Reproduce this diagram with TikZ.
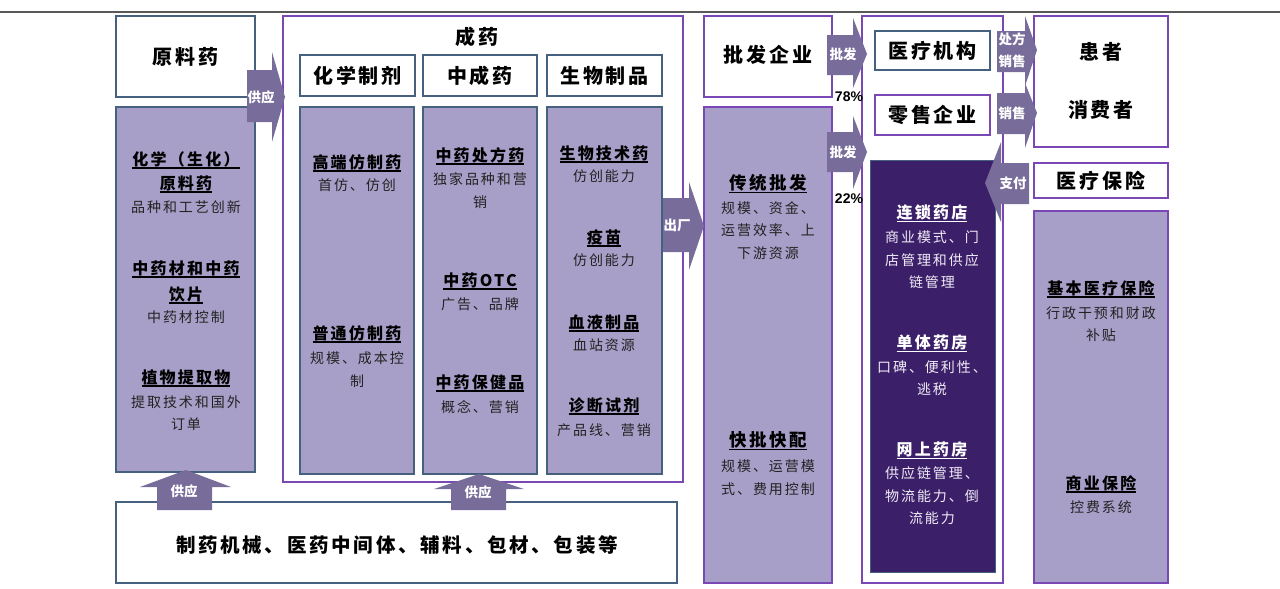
\documentclass[tikz,border=0pt]{standalone}
\usepackage{fontspec}
\setmainfont{Liberation Sans}
\newfontfamily\cjk{Noto Sans CJK SC}[LetterSpace=14]
\newfontfamily\cjkh{Noto Sans CJK SC}[LetterSpace=14]
\newfontfamily\cjkn{Noto Sans CJK SC}
\usetikzlibrary{fit}
\definecolor{lav}{HTML}{A79FC7}
\definecolor{bgray}{HTML}{46617F}
\definecolor{pbord}{HTML}{7A48B4}
\definecolor{arrc}{HTML}{786D9A}
\definecolor{darkp}{HTML}{3C1F69}
\definecolor{bodyc}{HTML}{222222}
\definecolor{lightt}{HTML}{F0ECF6}
\newcommand\myul[1]{\setbox0\hbox{#1}\leavevmode\rlap{\smash{\rule[-3.5pt]{\wd0}{1.3pt}}}\box0}
\newcommand\myHD{\cjkh\bfseries\fontsize{20}{24}\selectfont}
\newcommand\myTT{\cjk\bfseries\fontsize{16}{24}\selectfont}
\newcommand\myTTb{\cjk\bfseries\fontsize{17.5}{24}\selectfont}
\newcommand\myBD{\cjk\fontsize{14}{22.5}\selectfont}
\newcommand\myAT{\cjkn\bfseries\fontsize{13.5}{22}\selectfont}
\tikzset{
  bxb/.style={draw=bgray, line width=2.2pt, fill=white, inner sep=0pt, outer sep=0pt},
  bxp/.style={draw=pbord, line width=2pt, fill=white, inner sep=0pt, outer sep=0pt},
  lavb/.style={bxb, fill=lav},
  lavp/.style={bxp, fill=lav},
  hd/.style={font=\myHD, text=black, inner sep=0pt},
  tt/.style={font=\myTT, text=black, inner sep=0pt, align=center},
  ttb/.style={font=\myTTb, text=black, inner sep=0pt, align=center},
  bd/.style={font=\myBD, text=bodyc, inner sep=0pt, align=center},
  arrtxt/.style={font=\myAT, text=white, inner sep=0pt, align=center},
  pct/.style={font=\bfseries\fontsize{14}{16}\selectfont, text=black, inner sep=0pt},
  arr/.style={fill=arrc, draw=none},
}
\begin{document}
\begin{tikzpicture}[x=1pt,y=-1pt]
\useasboundingbox (0,0) rectangle (1280,589);
% top rule
\coordinate (tl) at (0,12);
\coordinate (tr) at (1280,12);
\draw[line width=1.3pt, color=black!65] (tl) -- (tr);

% ---------- left: raw materials ----------
\node[bxb, fit={(116,16)(255,97)}] (ylb) {};
\node[lavb, fit={(116,107)(255,472)}] (lcol) {};

% ---------- finished drugs ----------
\node[bxp, line width=1.6pt, fit={(283,16)(683,482)}] (cy) {};
\node[bxb, fit={(300,55)(415,96)}] (h1) {};
\node[bxb, fit={(423,55)(537,96)}] (h2) {};
\node[bxb, fit={(547,55)(662,96)}] (h3) {};
\node[lavb, fit={(300,107)(414,474)}] (c1) {};
\node[lavb, fit={(423,107)(537,474)}] (c2) {};
\node[lavb, fit={(547,107)(662,474)}] (c3) {};

% ---------- bottom ----------
\node[bxb, fit={(116,502)(677,583)}] (bot) {};

% ---------- wholesale ----------
\node[bxp, fit={(704,16)(832,97)}] (pf) {};
\node[lavp, fit={(704,107)(832,583)}] (pfc) {};

% ---------- retail / hospitals ----------
\node[bxp, fit={(862,16)(1003,583)}] (ro) {};
\node[bxb, fit={(875,31)(990,70)}] (yl) {};
\node[bxp, fit={(875,95)(990,135)}] (ls) {};
\node[fill=darkp, draw=bgray, line width=1pt, inner sep=0pt, outer sep=0pt, fit={(870,160)(995,572)}] (dk) {};

% ---------- patients / insurance ----------
\node[bxp, fit={(1034,16)(1168,147)}] (hz) {};
\node[bxp, fit={(1034,163)(1168,198)}] (yb) {};
\node[lavp, fit={(1034,211)(1168,583)}] (ybc) {};

% ---------- block arrows ----------
\fill[arr] (247,70) -- (272,70) -- (272,52) -- (285,97) -- (272,142) -- (272,122) -- (247,122) -- cycle;
\fill[arr] (663,198) -- (689,198) -- (689,182) -- (704,226) -- (689,270) -- (689,252) -- (663,252) -- cycle;
\fill[arr] (827,35) -- (853,35) -- (853,18) -- (867,54) -- (853,88) -- (853,75) -- (827,75) -- cycle;
\fill[arr] (827,132) -- (853,132) -- (853,116) -- (867,152) -- (853,189) -- (853,172) -- (827,172) -- cycle;
\fill[arr] (997,31) -- (1025,31) -- (1025,16) -- (1037,50) -- (1025,86) -- (1025,72) -- (997,72) -- cycle;
\fill[arr] (997,93) -- (1025,93) -- (1025,83) -- (1037,113) -- (1025,148) -- (1025,134) -- (997,134) -- cycle;
\fill[arr] (1029,163) -- (1001,163) -- (1001,142) -- (985,183) -- (1001,222) -- (1001,204) -- (1029,204) -- cycle;
\fill[arr] (157,510) -- (157,487) -- (140,487) -- (186,470) -- (231,487) -- (212,487) -- (212,510) -- cycle;
\fill[arr] (451,510) -- (451,489) -- (434,489) -- (479,474) -- (524,489) -- (506,489) -- (506,510) -- cycle;

\node[arrtxt] (a1) at (261,97) {供应};
\node[arrtxt] (a2) at (677,225) {出厂};
\node[arrtxt] (a3) at (843,54) {批发};
\node[arrtxt] (a4) at (843,152) {批发};
\node[arrtxt] (a5) at (1012,50.5) {处方\\销售};
\node[arrtxt] (a6) at (1012,113) {销售};
\node[arrtxt] (a7) at (1013,183) {支付};
\node[arrtxt] (a8) at (184,491) {供应};
\node[arrtxt] (a9) at (478,492) {供应};
\node[pct] (p78) at (849,97) {78\%};
\node[pct] (p22) at (849,199) {22\%};

% ---------- headers ----------
\node[hd] at (ylb.center) {原料药};
\node[hd] at (477,37) {成药};
\node[hd] at (h1.center) {化学制剂};
\node[hd] at (h2.center) {中成药};
\node[hd] at (h3.center) {生物制品};
\node[hd, font=\cjkh\bfseries\fontsize{19.5}{24}\selectfont] at (397,545) {制药机械、医药中间体、辅料、包材、包装等};
\node[hd] at (768,55) {批发企业};
\node[hd] at (yl.center) {医疗机构};
\node[hd] at (ls.center) {零售企业};
\node[hd] at (1101,52) {患者};
\node[hd] at (1101,110) {消费者};
\node[hd] at (yb.center) {医疗保险};

% ---------- left column ----------
\node[tt, font=\cjk\bfseries\fontsize{16}{24}\selectfont] at (186,171) {\myul{化学（生化）}\\\myul{原料药}};
\node[bd] at (186,207) {品种和工艺创新};
\node[tt, font=\cjk\bfseries\fontsize{16}{26}\selectfont] at (186,281) {\myul{中药材和中药}\\\myul{饮片}};
\node[bd] at (186,317) {中药材控制};
\node[tt] at (186,377) {\myul{植物提取物}};
\node[bd, font=\cjk\fontsize{14}{21.5}\selectfont] at (186,413) {提取技术和国外\\订单};

% ---------- chemical ----------
\node[tt] at (357,162) {\myul{高端仿制药}};
\node[bd] at (357,185) {首仿、仿创};
\node[tt] at (357,333) {\myul{普通仿制药}};
\node[bd] at (357,369.5) {规模、成本控\\制};

% ---------- TCM ----------
\node[tt] at (480,155) {\myul{中药处方药}};
\node[bd] at (480,190.5) {独家品种和营\\销};
\node[tt] at (480,280) {\myul{中药OTC}};
\node[bd] at (480,304) {广告、品牌};
\node[tt] at (480,382) {\myul{中药保健品}};
\node[bd] at (480,407) {概念、营销};

% ---------- biologics ----------
\node[tt] at (604,153) {\myul{生物技术药}};
\node[bd] at (604,176) {仿创能力};
\node[tt] at (604,237) {\myul{疫苗}};
\node[bd] at (604,260) {仿创能力};
\node[tt] at (604,322) {\myul{血液制品}};
\node[bd] at (604,345) {血站资源};
\node[tt] at (604,405) {\myul{诊断试剂}};
\node[bd] at (604,430) {产品线、营销};

% ---------- wholesale column ----------
\node[ttb] at (768,183) {\myul{传统批发}};
\node[bd] at (768,230.5) {规模、资金、\\运营效率、上\\下游资源};
\node[ttb] at (768,440) {\myul{快批快配}};
\node[bd] at (768,477.5) {规模、运营模\\式、费用控制};

% ---------- pharmacies (dark) ----------
\node[tt, text=white] at (932,213) {\myul{连锁药店}};
\node[bd, text=lightt] at (932,260) {商业模式、门\\店管理和供应\\链管理};
\node[tt, text=white] at (932,343) {\myul{单体药房}};
\node[bd, text=lightt] at (932,378) {口碑、便利性、\\逃税};
\node[tt, text=white] at (932,450) {\myul{网上药房}};
\node[bd, text=lightt] at (932,496) {供应链管理、\\物流能力、倒\\流能力};

% ---------- insurance column ----------
\node[tt] at (1101,288) {\myul{基本医疗保险}};
\node[bd] at (1101,324) {行政干预和财政\\补贴};
\node[tt] at (1101,483) {\myul{商业保险}};
\node[bd] at (1101,507) {控费系统};
\end{tikzpicture}
\end{document}
